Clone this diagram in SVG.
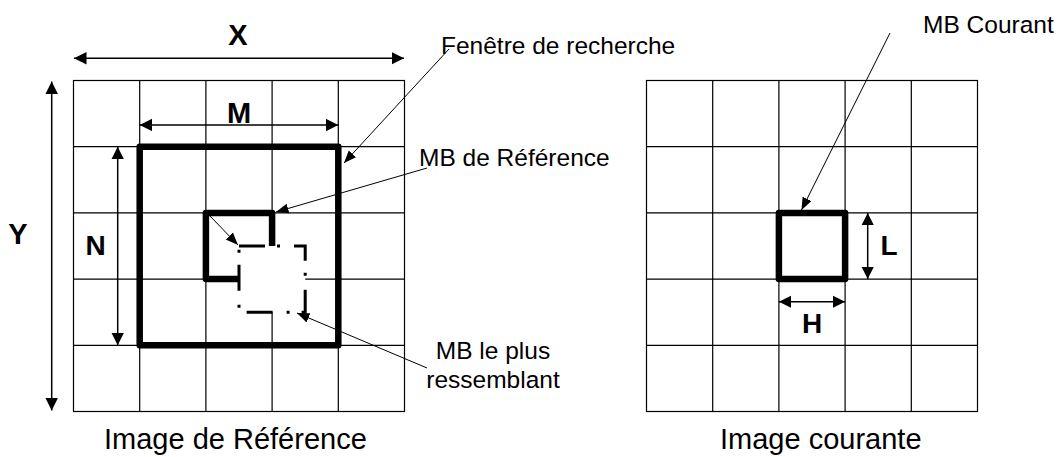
<svg xmlns="http://www.w3.org/2000/svg" width="1060" height="457" viewBox="0 0 1060 457">
<style>
.grid{fill:none;stroke:#000;stroke-width:1.2}
.thick{fill:none;stroke:#000;stroke-width:6.5;stroke-linejoin:round}
.dim{stroke:#000;stroke-width:1.5;fill:none}
.ptr{stroke:#000;stroke-width:1;fill:none}
.lbl{font-family:"Liberation Sans",Arial,sans-serif;font-size:24.5px;fill:#000}
.big{font-family:"Liberation Sans",Arial,sans-serif;font-size:29px;fill:#000}
.bold{font-family:"Liberation Sans",Arial,sans-serif;font-size:29px;font-weight:bold;fill:#000;text-anchor:middle}
</style>
<defs>
<marker id="ah" markerUnits="userSpaceOnUse" markerWidth="13" markerHeight="13" refX="12.5" refY="6.25" orient="auto-start-reverse"><path d="M0,0 L12.5,6.25 L0,12.5 Z" fill="#000"/></marker>
<marker id="ph" markerUnits="userSpaceOnUse" markerWidth="13" markerHeight="11" refX="12.5" refY="5" orient="auto"><path d="M0,0 L12.5,5 L0,10 Z" fill="#000"/></marker>
</defs>
<rect width="1060" height="457" fill="#fff"/>
<g id="grid-ref">
<rect class="grid" x="73.5" y="80.5" width="331" height="331"/>
<path class="grid" d="M139.7,80.5V411.5M205.9,80.5V411.5M272.1,80.5V411.5M338.3,80.5V411.5M73.5,146.7H404.5M73.5,212.9H404.5M73.5,279.1H404.5M73.5,345.3H404.5"/>
</g>
<g id="grid-cur">
<rect class="grid" x="646.5" y="80.5" width="331" height="331"/>
<path class="grid" d="M712.7,80.5V411.5M778.9,80.5V411.5M845.1,80.5V411.5M911.3,80.5V411.5M646.5,146.7H977.5M646.5,212.9H977.5M646.5,279.1H977.5M646.5,345.3H977.5"/>
</g>
<g id="search-window"><rect class="thick" x="139.7" y="146.7" width="198.6" height="198.6"/></g>
<g id="mb-ref"><rect class="thick" x="205.9" y="212.9" width="66.2" height="66.2"/></g>
<g id="mb-similar">
<rect x="239" y="246" width="66.2" height="66.2" fill="#fff"/>
<path d="M239,246 h66.2 v66.2 h-66.2 z" fill="none" stroke="#000" stroke-width="3" stroke-dasharray="26 12 3 14"/>
</g>
<g id="mb-cur"><rect class="thick" x="778.9" y="212.9" width="66.2" height="66.2"/></g>
<g id="connectors">
<line class="dim" x1="74" y1="58.3" x2="404" y2="58.3" marker-start="url(#ah)" marker-end="url(#ah)"/>
<line class="dim" x1="51.7" y1="81.5" x2="51.7" y2="410.5" marker-start="url(#ah)" marker-end="url(#ah)"/>
<line class="dim" x1="139.7" y1="125" x2="338.3" y2="125" marker-start="url(#ah)" marker-end="url(#ah)"/>
<line class="dim" x1="117.7" y1="146.7" x2="117.7" y2="345.3" marker-start="url(#ah)" marker-end="url(#ah)"/>
<line class="dim" x1="867.7" y1="212.9" x2="867.7" y2="279.1" marker-start="url(#ah)" marker-end="url(#ah)"/>
<line class="dim" x1="778.9" y1="301.7" x2="845.1" y2="301.7" marker-start="url(#ah)" marker-end="url(#ah)"/>
<line class="ptr" x1="449" y1="49" x2="344" y2="163" marker-end="url(#ph)"/>
<line class="ptr" x1="427" y1="168" x2="276" y2="212" marker-end="url(#ph)"/>
<line class="ptr" x1="210" y1="216" x2="238" y2="245" marker-end="url(#ph)"/>
<line class="ptr" x1="427" y1="368" x2="297" y2="313" marker-end="url(#ph)"/>
<line class="ptr" x1="890" y1="33" x2="801.5" y2="210" marker-end="url(#ph)"/>
</g>
<g id="labels">
<text class="bold" x="238" y="45">X</text>
<text class="bold" x="18" y="243.5">Y</text>
<text class="bold" x="239" y="123">M</text>
<text class="bold" x="95.5" y="255" style="font-size:28px">N</text>
<text class="bold" x="889" y="255" style="font-size:28px">L</text>
<text class="bold" x="812" y="333" style="font-size:28px">H</text>
<text class="lbl" x="441" y="54">Fenêtre de recherche</text>
<text class="lbl" x="419" y="165.7">MB de Référence</text>
<text class="lbl" x="493" y="359" text-anchor="middle">MB le plus</text>
<text class="lbl" x="493" y="388" text-anchor="middle">ressemblant</text>
<text class="lbl" x="923" y="33">MB Courant</text>
<text class="big" x="104" y="449">Image de Référence</text>
<text class="big" x="720" y="449">Image courante</text>
</g>
</svg>
